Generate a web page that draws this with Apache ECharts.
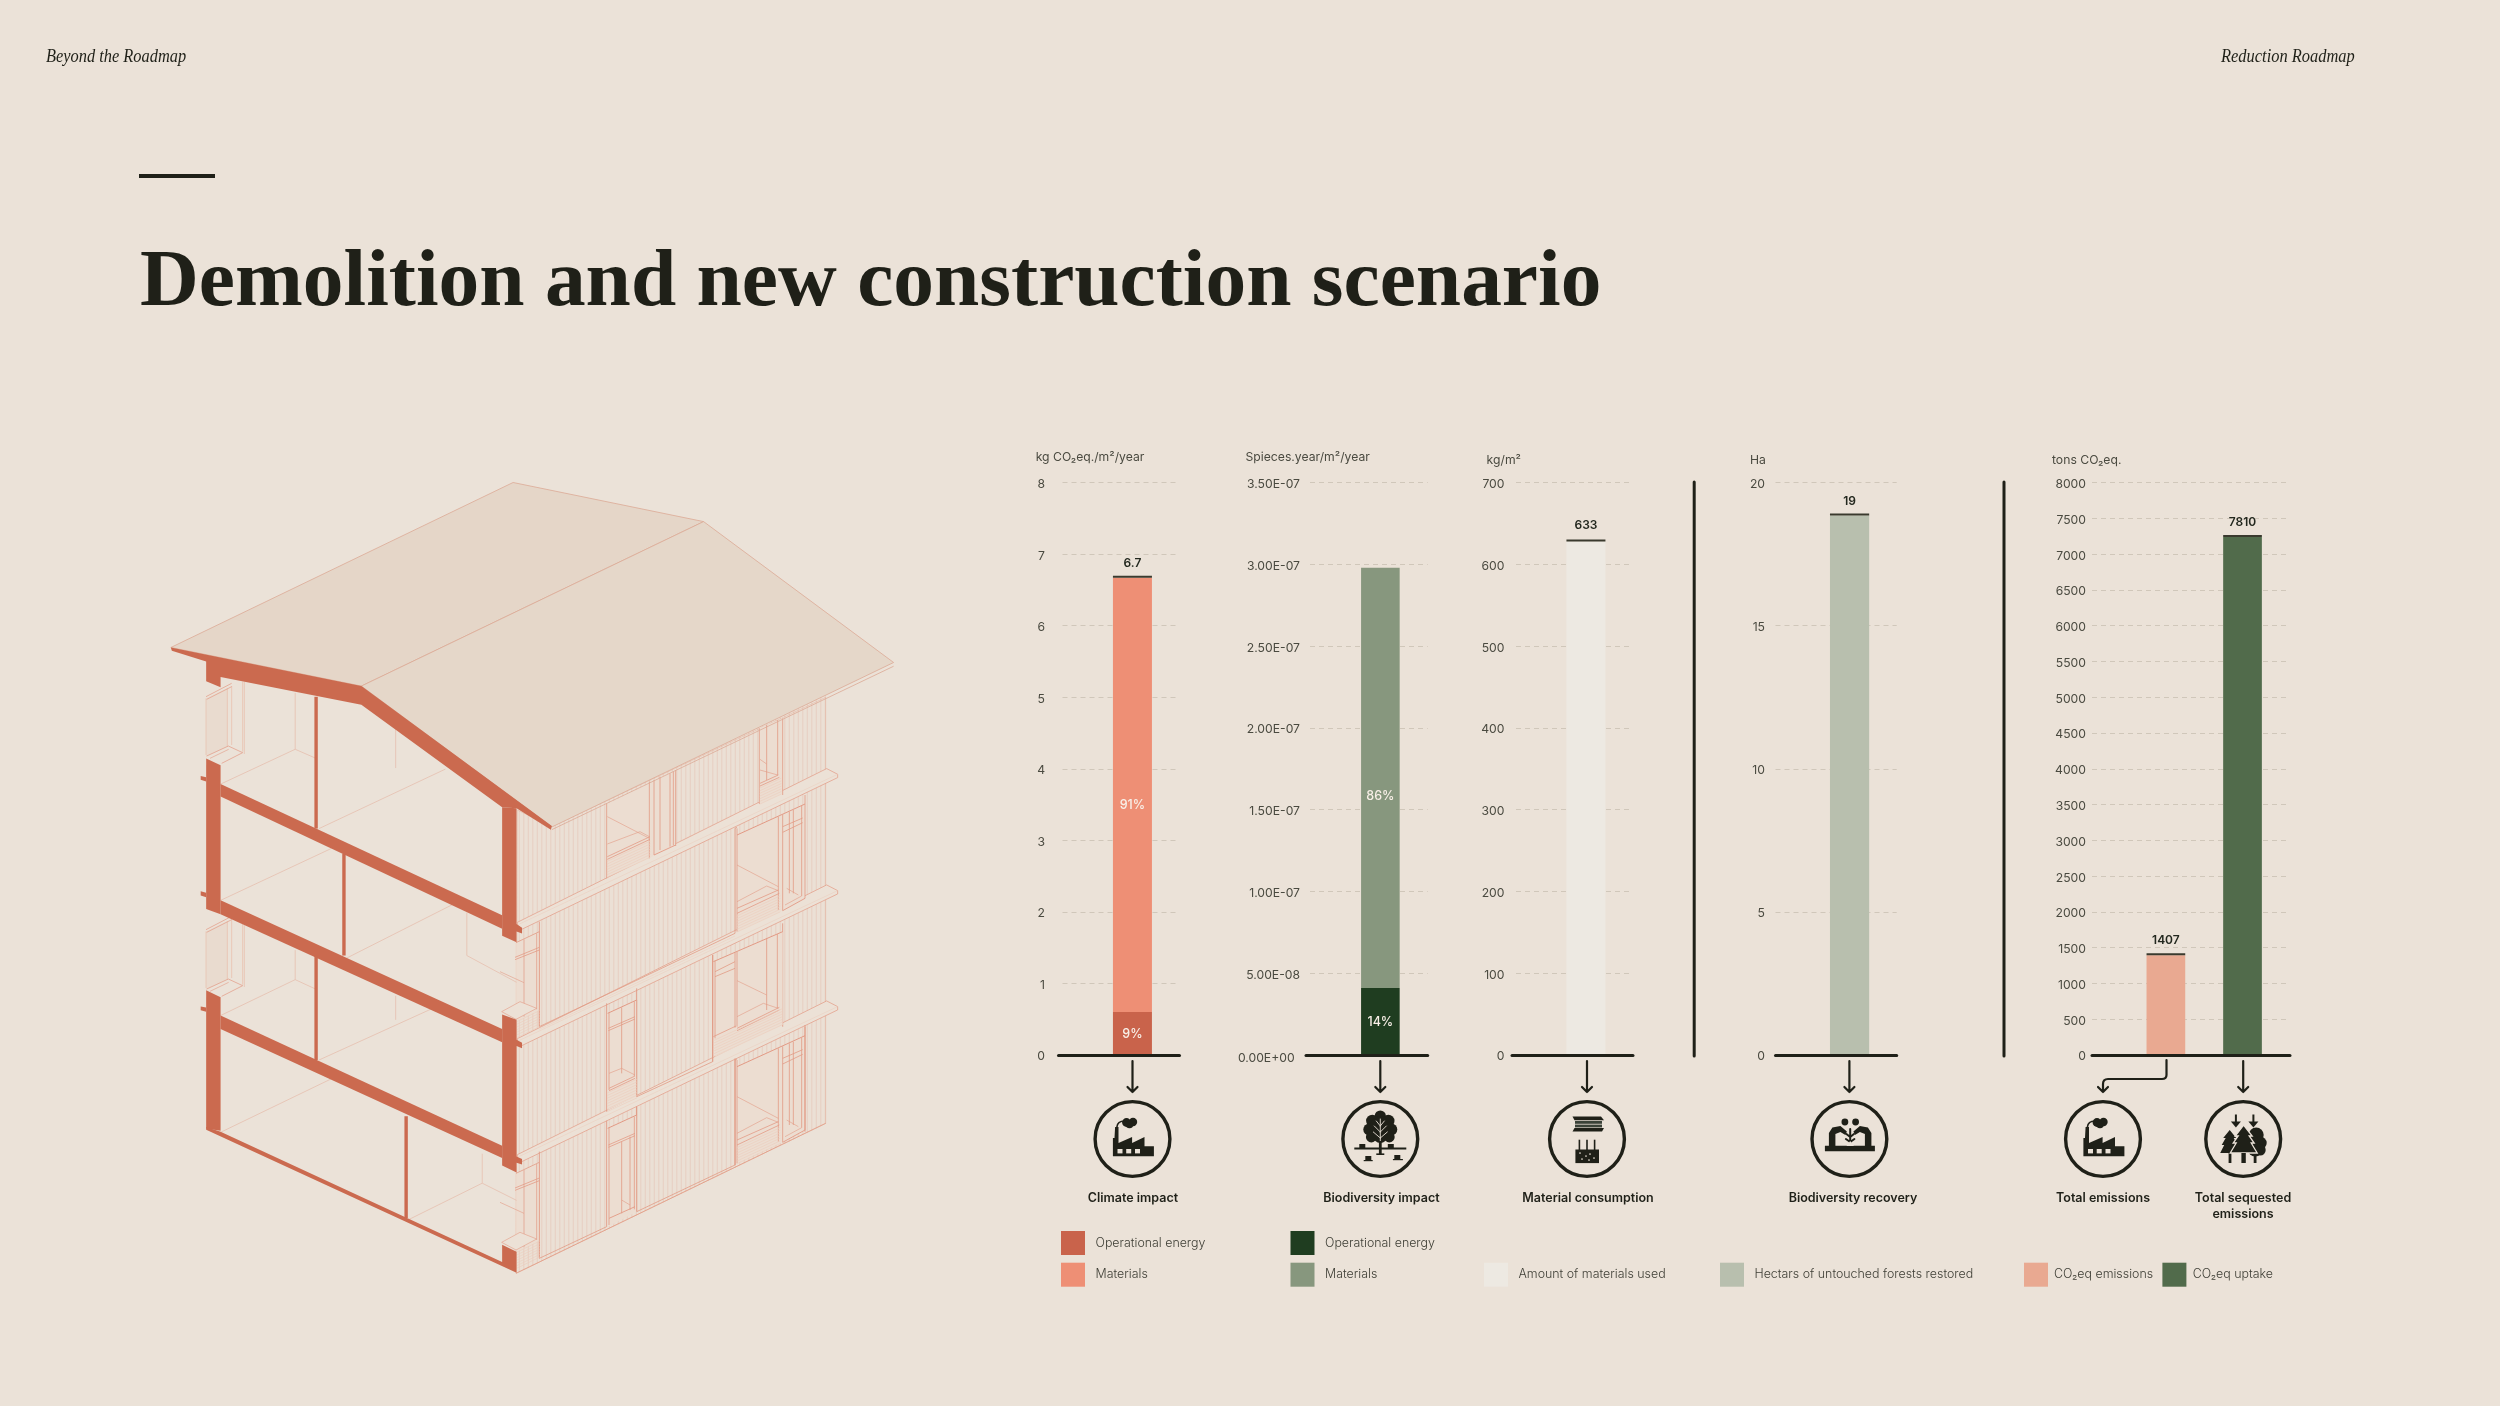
<!DOCTYPE html>
<html>
<head>
<meta charset="utf-8">
<style>html,body{margin:0;padding:0;background:#ebe2d8}#c{width:2500px;height:1406px}</style>
<script src="https://cdn.jsdelivr.net/npm/echarts@6/dist/echarts.min.js"></script>
</head>
<body>
<div id="c"></div>
<script>
// ---------- data ----------
const climateCategories = ['', '', '', '', '', 'Climate impact', '', '', ''];
const biodiversityCategories = ['', '', '', '', '', 'Biodiversity impact', '', '', ''];
const materialCategories = ['', '', '', '', '', 'Material consumption', '', '', ''];
const recoveryCategories = ['', '', '', '', '', 'Biodiversity recovery', '', '', ''];
const totalsCategories = ['', '', '', '', '', '', '', '', 'Totals', '', '', '', '', '', ''];

const climateOperational = 0.6;
const climateMaterials = 6.07;
const climateTotalLabel = '6.7';
const bioOperational = 4.1e-8;
const bioMaterials = 2.57e-7;
const materialsUsed = 628;
const materialsLabel = '633';
const hectaresRestored = 18.85;
const co2Emissions = 1395;
const co2Uptake = 7240;
const co2EmissionsLabel = '1407';
const co2UptakeLabel = '7810';

const climateTicks = ['0','1','2','3','4','5','6','7','8'];
const bioTicks = ['0.00E+00','5.00E-08','1.00E-07','1.50E-07','2.00E-07','2.50E-07','3.00E-07','3.50E-07'];
const materialTicks = ['0','100','200','300','400','500','600','700'];
const recoveryTicks = ['0','5','10','15','20'];
const totalsTicks = ['0','500','1000','1500','2000','2500','3000','3500','4000','4500','5000','5500','6000','6500','7000','7500','8000'];

const unitLabels = ['kg CO₂eq./m²/year','Spieces.year/m²/year','kg/m²','Ha','tons CO₂eq.'];
const headerLeft = 'Beyond the Roadmap';
const headerRight = 'Reduction Roadmap';
const titleText = 'Demolition and new construction scenario';
const impactLabels = ['Climate impact','Biodiversity impact','Material consumption','Biodiversity recovery','Total emissions','Total sequested\nemissions'];

// ---------- style ----------
const BG='#ebe2d8', INK='#1f2018', TICK='#4a4a40', GRID='#d0c7ba', RED='#cb6a4f', THIN='#e29a84';
const C={climOp:'#c9634b',climMat:'#ee8f75',bioOp:'#1f3d20',bioMat:'#87977e',mat:'#ede9e2',rec:'#b8bfae',em:'#e9a991',up:'#516b4b'};
const SANS='Inter, "Noto Sans", sans-serif', SERIF='"Liberation Serif", serif';

const TOP=482.6, H=572.4;
const grids=[[1058.5,121],[1306,121.7],[1512,121],[1775.5,121.2],[2092,198]];

// small path shape: understands M L V H Q with absolute coordinates
echarts.graphic.registerShape('svgd',echarts.graphic.extendShape({
  type:'svgd',shape:{d:''},
  buildPath(ctx,shape){
    const t=shape.d.match(/[MLVHQ]|-?[\d.]+/g)||[];let i=0,x=0,y=0;
    while(i<t.length){const c=t[i++];
      if(c==='M'){x=+t[i++];y=+t[i++];ctx.moveTo(x,y);}
      else if(c==='L'){x=+t[i++];y=+t[i++];ctx.lineTo(x,y);}
      else if(c==='V'){y=+t[i++];ctx.lineTo(x,y);}
      else if(c==='H'){x=+t[i++];ctx.lineTo(x,y);}
      else if(c==='Q'){const a=+t[i++],b=+t[i++];x=+t[i++];y=+t[i++];ctx.quadraticCurveTo(a,b,x,y);}
    }
  }
}));

function at(cats,v){const i=cats.findIndex(c=>c!=='');return cats.map((c,k)=>k===i?v:null);}

function xAxis(i,cats){return {type:'category',gridIndex:i,data:cats,z:5,
  axisLine:{show:true,lineStyle:{color:INK,width:3}},axisTick:{show:false},axisLabel:{show:false},splitLine:{show:false}};}
function yAxis(i,max,interval,ticks,margin,off){return {type:'value',gridIndex:i,min:0,max,interval,
  axisLine:{show:false},axisTick:{show:false},
  axisLabel:{margin,color:TICK,fontFamily:SANS,fontSize:12.2,fontWeight:400,align:'right',padding:[3.5,0,0,0],
    formatter:(v,k)=> (i===1&&k===0)?'{z|'+ticks[k]+'}':ticks[k],
    rich:{z:{padding:[3.5,5.4,0,0],color:TICK,fontFamily:SANS,fontSize:12.2,fontWeight:400}}},
  splitLine:{show:true,lineStyle:{color:GRID,width:1,type:[5,4],dashOffset:off}}};}

function bar(i,name,stack,data,color,w,pct,offY){return {type:'bar',name,stack,xAxisIndex:i,yAxisIndex:i,barWidth:w,data,
  itemStyle:{color},silent:true,
  label:pct?{show:true,position:'inside',offset:[0,offY||0],formatter:pct,color:'#f8efe7',fontFamily:SANS,fontSize:12.5,fontWeight:500}:{show:false}};}
function cap(i,stack,data,w,text,dist){return {type:'bar',name:'cap',stack,xAxisIndex:i,yAxisIndex:i,barWidth:w,barMinHeight:2,data,
  itemStyle:{color:'#3a3a2e'},silent:true,
  label:{show:true,position:'top',distance:dist||6.6,formatter:text,color:'#23281f',fontFamily:SANS,fontSize:12,fontWeight:600}};}

const series=[
 bar(0,'Operational energy','a',at(climateCategories,climateOperational),C.climOp,39,'9%',1),
 bar(0,'Materials','a',at(climateCategories,climateMaterials),C.climMat,39,'91%',10),
 cap(0,'a',at(climateCategories,0),39,climateTotalLabel),
 bar(1,'Operational energy','b',at(biodiversityCategories,bioOperational),C.bioOp,38.6,'14%',1),
 bar(1,'Materials','b',at(biodiversityCategories,bioMaterials),C.bioMat,38.6,'86%',18),
 bar(2,'Amount of materials used','c',at(materialCategories,materialsUsed),C.mat,39),
 cap(2,'c',at(materialCategories,0),39,materialsLabel,8),
 bar(3,'Hectars of untouched forests restored','d',at(recoveryCategories,hectaresRestored),C.rec,39.2),
 cap(3,'d',at(recoveryCategories,0),39.2,String(Math.round(hectaresRestored))),
 Object.assign(bar(4,'CO₂eq emissions','e',at(totalsCategories,co2Emissions),C.em,38.7),{barGap:'98%'}),
 cap(4,'e',at(totalsCategories,0),38.7,co2EmissionsLabel),
 Object.assign(bar(4,'CO₂eq uptake','f',at(totalsCategories,co2Uptake),C.up,38.7),{barGap:'98%'}),
 cap(4,'f',at(totalsCategories,0),38.7,co2UptakeLabel)
];

function legend(left,top,items,pad){return {left,top,orient:'vertical',itemWidth:24,itemHeight:24,itemGap:7.7,selectedMode:false,padding:0,
  icon:'rect',textStyle:{color:'#3e3e35',fontFamily:SANS,fontSize:12.4,fontWeight:300,padding:[0,0,0,pad==null?5.5:pad]},
  data:items.map(([name,color])=>({name,icon:'rect',itemStyle:{color,borderWidth:0}}))};}
const legends=[
 legend(1061,1231,[['Operational energy',C.climOp],['Materials',C.climMat]]),
 legend(1290.5,1231,[['Operational energy',C.bioOp],['Materials',C.bioMat]]),
 legend(1484,1262.7,[['Amount of materials used',C.mat]]),
 legend(1720,1262.7,[['Hectars of untouched forests restored',C.rec]]),
 legend(2024,1262.7,[['CO₂eq emissions',C.em]],1),
 legend(2162.4,1262.7,[['CO₂eq uptake',C.up]],1.3)
];

// ---------- graphic helpers ----------
const g=[];
function text(t,x,y,font,fill,align,scaleX){
  if(scaleX){g.push({type:'text',silent:true,x,y,scaleX,style:{text:t,x:0,y:0,font,fill,textAlign:align||'left',textVerticalAlign:'middle'}});return;}
  g.push({type:'text',silent:true,style:{text:t,x,y,font,fill,textAlign:align||'left',textVerticalAlign:'middle'}});}
function line(x1,y1,x2,y2,stroke,w){g.push({type:'line',silent:true,shape:{x1,y1,x2,y2},style:{stroke,lineWidth:w,lineCap:'round'}});}
function poly(pts,fill,stroke,w){g.push({type:'polygon',silent:true,shape:{points:pts},style:{fill:fill||'none',stroke:stroke||'none',lineWidth:w||0}});}
function pline(pts,stroke,w){g.push({type:'polyline',silent:true,shape:{points:pts},style:{fill:'none',stroke,lineWidth:w,lineJoin:'round'}});}
function path(d,stroke,w,fill){g.push({type:'svgd',silent:true,shape:{d},style:{fill:fill||'none',stroke:stroke||'none',lineWidth:w||0,lineCap:'round',lineJoin:'round'}});}
function circ(cx,cy,r,fill,stroke,w){g.push({type:'circle',silent:true,shape:{cx,cy,r},style:{fill:fill||'none',stroke:stroke||'none',lineWidth:w||0}});}
function rect(x,y,w,h,fill){g.push({type:'rect',silent:true,shape:{x,y,width:w,height:h},style:{fill}});}

// ---------- page text ----------
text(headerLeft,46,57,'italic 18px '+SERIF,INK,'left',.91);
text(headerRight,2221,57,'italic 18px '+SERIF,INK,'left',.913);
rect(139,174,76,4,INK);
text(titleText,140,284,'bold 80px '+SERIF,INK,'left',1.018);

const unitPos=[[1035.7,457],[1245.5,457],[1486.6,460],[1750,460],[2052,460]];
unitLabels.forEach((u,i)=>text(u,unitPos[i][0],unitPos[i][1],'400 12.2px '+SANS,TICK));

line(1694.2,482,1694.2,1056,INK,3);
line(2004,482,2004,1056,INK,3);

// ---------- arrows ----------
const arrowX=[1132.5,1380.3,1587,1849.4,2243.2];
arrowX.forEach(x=>path(`M${x} 1061V1092M${x-5} 1087L${x} 1092L${x+5} 1087`,INK,2.2));
path('M2166.5 1060V1075Q2166.5 1079 2162 1079H2108Q2103 1079 2103 1084V1092M2098 1087L2103 1092L2108 1087',INK,2.2);

// ---------- icons ----------
const CY=1139;
function factory(cx,cy){const p=a=>a.map(([x,y])=>[cx+x,cy+y]);
  poly(p([[-19.6,17.3],[-19.6,-1],[-18,-1],[-17.4,-12],[-14,-12],[-14,4],[-.4,-2],[-.4,4],[12,-2],[12,7.3],[21.4,7.3],[21.4,17.3]]),INK);
  [-15,-6.3,2.5].forEach(x=>rect(cx+x,cy+10,5,4.4,BG));
  circ(cx-6,cy-16.5,4.4,INK);circ(cx+.5,cy-17,4.2,INK);circ(cx-3,cy-14.5,3.8,INK);
  path(`M${cx-15.6} ${cy-12}Q${cx-15} ${cy-18} ${cx-8} ${cy-18}`,INK,1.6);}
function tree(cx,cy){
  [[0,-23,5.6],[-8,-18,6.2],[8,-18,6.2],[-11,-9.5,6],[11,-9.5,6],[-9,-2,5.4],[9,-2,5.4],[0,-12,10.5],[0,-3,7]].forEach(([x,y,r])=>circ(cx+x,cy+y,r,INK));
  path(`M${cx} ${cy-20}V${cy+2}M${cx} ${cy-13}L${cx-4} ${cy-18}M${cx} ${cy-13}L${cx+4} ${cy-18}M${cx} ${cy-7}L${cx-6} ${cy-13}M${cx} ${cy-7}L${cx+6} ${cy-13}M${cx} ${cy-1}L${cx-7} ${cy-7}M${cx} ${cy-1}L${cx+7} ${cy-7}`,BG,.9);
  rect(cx-1.4,cy+2,2.8,13,INK);rect(cx-4,cy+14.4,8,1.6,INK);
  rect(cx-26,cy+8.6,52,2,INK);
  rect(cx-21,cy+5,6,4,INK);rect(cx+7.5,cy+5,6,4,INK);
  rect(cx-15,cy+17,6,4.2,INK);rect(cx-16.6,cy+21,9,1.2,INK);
  rect(cx+14,cy+16,6,4.2,INK);rect(cx+12.6,cy+20,10,1.2,INK);}
function materials(cx,cy){
  poly([[cx-14.5,cy-22.5],[cx+14,cy-22.5],[cx+17,cy-18.8],[cx-12.5,cy-18.8]],INK);
  poly([[cx-12,cy-18],[cx+15,cy-18],[cx+15,cy-15.2],[cx-12,cy-15.2]],'#3a4238');
  poly([[cx-12,cy-14.4],[cx+15,cy-14.4],[cx+15,cy-11.6],[cx-12,cy-11.6]],'#3a4238');
  poly([[cx-12.5,cy-11],[cx+17,cy-11],[cx+15,cy-7.6],[cx-14.5,cy-7.6]],INK);
  [-7.6,0,7.6].forEach(x=>rect(cx+x-.8,cy+.7,1.6,12,INK));
  rect(cx-11.6,cy+10.5,23.6,13.6,INK);
  [[-7,14],[-1,17],[3,15],[7,19],[-5,20],[2,21]].forEach(([x,y])=>circ(cx+x,cy+y,.85,BG));}
function recovery(cx,cy){
  rect(cx-24.5,cy+6.7,50,5.6,INK);
  poly([[cx-20.5,cy+7],[cx-20.5,cy-6],[cx-17,cy-11.5],[cx-9,cy-13],[cx-2.5,cy-7.5],[cx-4,cy-4],[cx-9,cy-7],[cx-14,cy-5],[cx-14,cy+7]],INK);
  poly([[cx+22,cy+7],[cx+22,cy-6],[cx+18.5,cy-11.5],[cx+10.5,cy-13],[cx+4,cy-7.5],[cx+5.5,cy-4],[cx+10.5,cy-7],[cx+15.5,cy-5],[cx+15.5,cy+7]],INK);
  circ(cx-4.5,cy-17,3.4,INK);circ(cx+6.2,cy-17,3.4,INK);
  path(`M${cx+.8} ${cy+8}V${cy-10}M${cx+.8} ${cy-2}L${cx-3} ${cy-5}M${cx+.8} ${cy-2}L${cx+4.5} ${cy-5}M${cx+.8} ${cy+3}L${cx-3.5} ${cy}M${cx+.8} ${cy+3}L${cx+5} ${cy}`,INK,2);
  poly([[cx-3,cy+7],[cx+.8,cy+2],[cx+4.6,cy+7]],BG);}
function sequest(cx,cy){
  [-7.3,10.2].forEach(x=>{rect(cx+x-1,cy-24.5,2,8,INK);poly([[cx+x-5,cy-17.5],[cx+x+5,cy-17.5],[cx+x,cy-11.5]],INK);});
  rect(cx-14.6,cy+12,2.8,12,INK);rect(cx+10.5,cy+12,2.8,12,INK);
  poly([[cx-13.5,cy-9],[cx-7,cy-1],[cx-9.5,cy-1],[cx-5.5,cy+6],[cx-8,cy+6],[cx-4,cy+14],[cx-23,cy+14],[cx-19,cy+6],[cx-21.5,cy+6],[cx-17.5,cy-1],[cx-20,cy-1]],INK);
  [[13,-4,7.5],[17,4,6.5],[12,10,7.5],[17,11,5.5],[9,2,6]].forEach(([x,y,r])=>circ(cx+x,cy+y,r,INK));
  poly([[cx+.4,cy-14],[cx+9,cy-3],[cx+6,cy-3],[cx+11,cy+4],[cx+8,cy+4],[cx+14,cy+14],[cx-13,cy+14],[cx-7,cy+4],[cx-10,cy+4],[cx-5,cy-3],[cx-8,cy-3]],INK,BG,1.3);
  rect(cx-1.8,cy+14,4.4,10,INK);}
const iconX=[1132.5,1380.3,1587,1849.4,2103,2243.2];
iconX.forEach(x=>circ(x,CY,37.4,null,INK,3.4));
factory(iconX[0],CY);tree(iconX[1],CY);materials(iconX[2],CY);recovery(iconX[3],CY);factory(iconX[4],CY);sequest(iconX[5],CY);

const labelX=[1133,1381.5,1588,1853,2103,2243];
impactLabels.forEach((t,i)=>{
  const parts=t.split('\n');
  parts.forEach((p,k)=>text(p,labelX[i],1198+16*k,'600 12.5px '+SANS,INK,'center'));
});

// ---------- building illustration ----------
const bx=X=>140+X/2.0103, by=Y=>460+Y/1.8667;
const B=a=>a.map(([x,y])=>[bx(x),by(y)]);       // section coordinates
const F=a=>a.map(([X,Y])=>[500+X/3,660+Y/3]);   // facade coordinates
const SOFT='#ecccbc', EDGE='#e39a85', FILLW='#ecddd1', FILLB='#ece1d6';
const fl=(a,w,c)=>pline(F(a),c||THIN,w||.8);
const vl=(list,w,c)=>list.forEach(([X,a,b])=>fl([[X,a],[X,b]],w,c));
const segs=(a,b,step,c,w)=>{ // hatch between two parallel sloped lines
  let s='';const [[x1,y1],[x2,y2]]=a;const n=Math.round((b[0][1]-y1)/step);
  for(let i=0;i<=n;i++){const q=F([[x1,y1+i*step],[x2,y2+i*step]]);s+=`M${q[0][0].toFixed(1)} ${q[0][1].toFixed(1)}L${q[1][0].toFixed(1)} ${q[1][1].toFixed(1)}`;}
  path(s,c||SOFT,w||.6);};
const eave=X=>X<155?450+(X-52)*.53:497-.478*(X-155);
const bandTop=[787,1136,1484];
const bandY=(k,X)=>bandTop[k]-.497*(X-52);
const botY=X=>1840-.484*(X-48);

// facade ground
poly(F([[52,450],[155,500],[977,112],[977,1390],[48,1840]]),'#ebe0d5','#e8c0ae',.7);
// vertical cladding
let hatch='';
for(let X=58;X<977;X+=13.5){
  const ranges=[[eave(X),bandY(0,X)],[bandY(0,X)+21,bandY(1,X)],[bandY(1,X)+21,bandY(2,X)],[bandY(2,X)+21,botY(X)]];
  ranges.forEach(([a,b])=>{const q=F([[X,a],[X,b]]);hatch+=`M${q[0][0].toFixed(1)} ${q[0][1].toFixed(1)}V${q[1][1].toFixed(1)}`;});
}
path(hatch,'rgba(214,130,105,.26)',.7);
// bands
[0,1,2].forEach(k=>{const Y=bandTop[k],Y2=bandY(k,980);
  poly(F([[52,Y],[980,Y2],[1013,Y2+17],[1013,Y2+27],[65,Y+21],[52,Y+15]]),FILLB,THIN,.7);
  fl([[52,Y+8],[1013,Y2+17]],.5,SOFT);
});
// openings
function bigWin(d){
  poly(F([[711,525+d],[915,432+d],[915,715+d],[840,755+d],[711,815+d]]),FILLW,null,0);
  fl([[711,525+d],[915,432+d]],1,EDGE);
  fl([[705,505+d],[711,502+d]],.8);
  vl([[705,505+d,820+d],[711,505+d,815+d],[835,470+d,750+d],[848,464+d,752+d],[868,455+d,700+d],[880,450+d,700+d],[905,438+d,708+d],[915,405+d,715+d]],.8);
  fl([[711,615+d],[835,680+d]],.6);
  fl([[711,725+d],[800,678+d],[835,692+d]],.6);
  fl([[711,745+d],[835,690+d]],.8,EDGE);fl([[711,760+d],[838,700+d]],.8,EDGE);
  segs([[711,768+d],[840,708+d]],[[711,815+d],[840,755+d]],8);
  fl([[848,500+d],[908,474+d]],.8);fl([[848,517+d],[908,488+d]],.8);
  fl([[848,752+d],[915,715+d]],.9,EDGE);fl([[855,735+d],[905,708+d]],.6);
  fl([[860,685+d],[895,705+d]],.6);
}
bigWin(0);bigWin(695);
// top floor window 1
poly(F([[322,432],[448,370],[448,595],[322,650]]),FILLW);
poly(F([[448,370],[527,330],[527,555],[448,595]]),FILLW);
vl([[320,430,655],[448,365,595],[462,360,585],[480,350,570],[510,340,560],[520,335,556],[527,330,558]],.8);
fl([[322,470],[448,535]],.6);fl([[322,552],[420,515],[448,530]],.6);
fl([[322,590],[450,530]],.8,EDGE);fl([[322,598],[450,538]],.8,EDGE);
segs([[322,604],[450,544]],[[322,650],[450,590]],8);
fl([[462,585],[527,555]],.9,EDGE);
// top floor window 2
poly(F([[778,205],[848,175],[848,400],[778,432]]),FILLW);
vl([[778,205,432],[800,195,360],[833,180,345],[848,175,405]],.8);
fl([[780,298],[800,312]],.6);fl([[780,330],[833,345]],.6);
fl([[780,370],[835,345]],.8,EDGE);fl([[780,378],[838,352]],.8,EDGE);
segs([[780,384],[843,355]],[[780,430],[843,401]],8);
// panel edges
vl([[118,785,1100],[118,1475,1795],[320,1030,1355],[320,1382,1700],[410,985,1310],[410,1340,1655],[638,885,1205],[705,1195,1515],[848,790,1100],[915,1095,1415]],.9);
fl([[118,1100],[705,820]],.8);fl([[118,1108],[705,828]],.5,SOFT);
fl([[410,1310],[638,1205]],.8);
fl([[118,1795],[320,1700]],.8);fl([[410,1655],[705,1515]],.8);
// third-floor wide window
poly(F([[645,905],[848,815],[848,1095],[645,1190]]),FILLW);
fl([[640,905],[848,815]],1,EDGE);
vl([[638,885,1205],[645,902,1135],[705,878,1103],[711,875,1100],[800,835,1050],[832,822,1045]],.8);
fl([[645,935],[705,905]],.8);fl([[645,950],[705,925]],.8);
fl([[711,962],[800,1005]],.6);fl([[711,1070],[790,1030],[835,1045]],.6);
fl([[711,1105],[838,1042]],.8,EDGE);fl([[711,1112],[838,1050]],.8,EDGE);
fl([[640,1130],[708,1098]],.8,EDGE);
segs([[640,1142],[845,1047]],[[640,1190],[845,1095]],8);
// narrow windows
poly(F([[323,1060],[410,1020],[410,1310],[323,1350]]),FILLW);
fl([[323,1060],[410,1020]],1,EDGE);
vl([[327,1058,1290],[365,1042,1240],[403,1024,1248],[410,1020,1310]],.8);
fl([[325,1105],[405,1070]],.8);fl([[325,1112],[405,1077]],.8);
fl([[327,1240],[365,1225],[405,1245]],.6);
fl([[327,1285],[405,1248]],.8,EDGE);fl([[327,1292],[405,1255]],.8,EDGE);
segs([[323,1298],[410,1258]],[[323,1350],[410,1310]],8);
poly(F([[323,1405],[410,1365],[410,1655],[323,1700]]),FILLW);
fl([[323,1405],[410,1365]],1,EDGE);
vl([[327,1403,1695],[365,1445,1660],[390,1430,1650],[403,1370,1648],[410,1340,1655]],.8);
fl([[325,1455],[405,1420]],.8,EDGE);fl([[325,1462],[405,1427]],.8,EDGE);
fl([[365,1620],[390,1635]],.6);
fl([[327,1675],[405,1640]],.9,EDGE);
// corner returns
[0,692].forEach(d=>{
  poly(F([[48,848+d],[118,815+d],[118,1050+d],[48,1085+d]]),FILLW);
  vl([[72,838+d,1070+d],[110,820+d,1048+d],[118,815+d,1100+d]],.7);
  vl([[48,848+d,1130+d]],.5,SOFT);
  fl([[48,848+d],[118,815+d]],.8);
  fl([[45,892+d],[118,862+d]],.8,EDGE);fl([[45,899+d],[118,870+d]],.8,EDGE);
  fl([[0,935+d],[72,968+d]],.6);
  poly(F([[48,1078+d],[5,1055+d],[60,1025+d],[110,1045+d]]),FILLB,THIN,.6);
  segs([[50,1085+d],[118,1052+d]],[[50,1130+d],[118,1097+d]],8);
});
fl([[48,1840],[977,1390]],.8);
// left-side windows and interior lines (section coordinates from here)
const S=a=>a.map(([X,Y])=>[170+X/3,630+Y/3]);
[0,699].forEach(d=>{
  poly(S([[108,205+d],[172,175+d],[172,350+d],[108,380+d]]),'#e9dbcf');
  pline(S([[108,205+d],[108,375+d]]),'#e8c0ae',.7);
  [[172,175,350],[185,168,345],[218,155,365],[223,155,372]].forEach(([x,a,b])=>pline(S([[x,a+d],[x,b+d]]),'#e8c0ae',.8));
  pline(S([[108,200+d],[185,160+d]]),THIN,.7);pline(S([[110,208+d],[185,170+d]]),THIN,.7);
  pline(S([[110,378+d],[175,348+d],[218,368+d],[155,400+d]]),THIN,.7);
  pline(S([[120,385+d],[176,358+d]]),THIN,.6);
});
[
 [[312,435],[312,540],[354,557]],[[312,540],[162,605]],[[514,497],[514,575]],[[614,577],[360,688]],
 [[385,725],[162,822]],[[628,830],[415,930]],[[657,845],[657,925],[757,975]],
 [[312,915],[312,970],[354,988]],[[312,970],[162,1037]],[[514,1000],[514,1045]],[[585,1025],[360,1120]],
 [[385,1155],[162,1255]],[[688,1295],[688,1350],[757,1382]],[[688,1350],[540,1418]]
].forEach(a=>pline(B(a),'#e6bfae',.8));
// roof
poly(B([[62,350],[750,42],[1133,115],[445,422]]),'#e5d6c8','#dcaa96',.8);
poly(B([[445,422],[1133,115],[1515,378],[828,685]]),'#e5d7c9','#dcaa96',.8);
pline(B([[828,690],[1515,385]]),'#dcaa96',.8);
// section cut
[
 [[62,350],[445,422],[828,683],[826,690],[757,650],[728,648],[445,457],[162,405],[162,424],[133,413],[133,376],[64,356]],
 [[728,648],[757,650],[757,866],[768,873],[768,884],[757,880],[757,900],[728,888]],
 [[133,557],[162,570],[162,848],[133,838]],
 [[122,590],[133,592],[133,600],[122,597]],[[122,805],[133,808],[133,816],[122,813]],[[122,1020],[133,1022],[133,1030],[122,1027]],
 [[162,605],[728,850],[728,875],[162,628]],
 [[162,822],[728,1062],[728,1087],[162,848]],
 [[728,1035],[757,1045],[757,1082],[768,1088],[768,1098],[757,1094],[757,1300],[768,1305],[768,1315],[757,1312],[757,1330],[728,1317]],
 [[133,990],[162,1003],[162,1252],[133,1248]],
 [[162,1037],[728,1280],[728,1303],[162,1062]],
 [[133,1245],[162,1254],[728,1497],[728,1465],[757,1478],[757,1517],[133,1250]]
].forEach(a=>poly(B(a),RED));
[[354,442,688],[410,735,925],[354,925,1120],[535,1225,1415]].forEach(([x,a,b])=>rect(bx(x)-1.7,by(a),3.4,by(b)-by(a),RED));

// ---------- chart ----------
const chart=echarts.init(document.getElementById('c'),null,{renderer:'canvas',width:2500,height:1406});
chart.setOption({
  animation:false,backgroundColor:BG,
  grid:grids.map(([left,width])=>({left,top:TOP,width,height:H,containLabel:false})),
  xAxis:[xAxis(0,climateCategories),xAxis(1,biodiversityCategories),xAxis(2,materialCategories),xAxis(3,recoveryCategories),xAxis(4,totalsCategories)],
  yAxis:[yAxis(0,8,1,climateTicks,13.5,5),yAxis(1,3.5e-7,5e-8,bioTicks,6,5),yAxis(2,700,100,materialTicks,7.5,5),yAxis(3,20,5,recoveryTicks,10.5,0),yAxis(4,8000,500,totalsTicks,6,0)],
  legend:legends,
  series,
  graphic:{elements:g}
});
</script>
</body>
</html>
